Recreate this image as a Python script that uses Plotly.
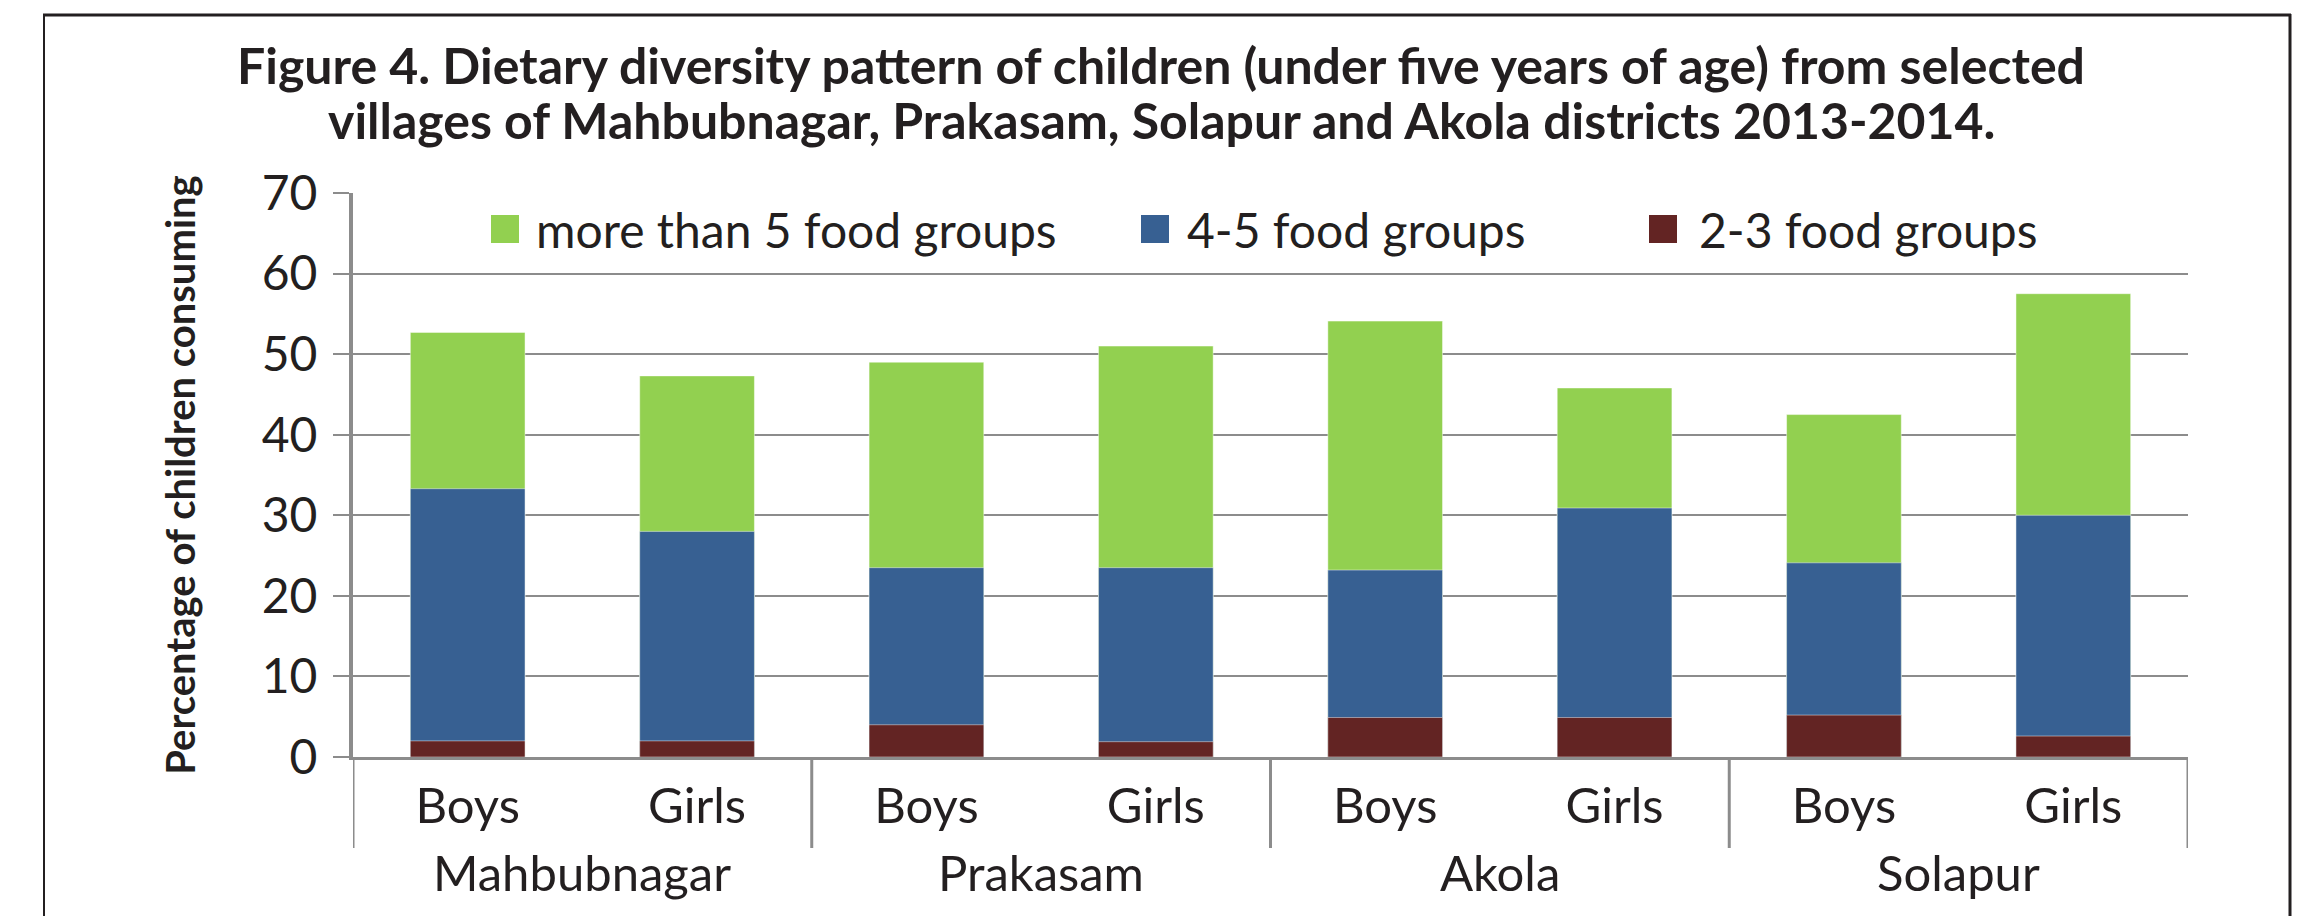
import plotly.graph_objects as go

# ---------------- data ----------------
districts = ["Mahbubnagar", "Prakasam", "Akola", "Solapur"]
genders = ["Boys", "Girls"]
series_names = ["more than 5 food groups", "4-5 food groups", "2-3 food groups"]
more_than_5 = [52.7, 47.3, 49.0, 51.0, 54.1, 45.8, 42.5, 57.5]
four_to_5 = [33.3, 28.0, 23.5, 23.5, 23.2, 30.9, 24.1, 30.0]
two_to_3 = [2.0, 2.0, 4.0, 1.9, 4.9, 4.9, 5.2, 2.6]
y_ticks = [0, 10, 20, 30, 40, 50, 60, 70]
title_lines = [
    "Figure 4. Dietary diversity pattern of children (under five years of age) from selected",
    "villages of Mahbubnagar, Prakasam, Solapur and Akola districts 2013-2014.",
]

series_values = [more_than_5, four_to_5, two_to_3]
colors = ["#92D050", "#376092", "#632423"]

inner = [g for _ in districts for g in genders]
pos = list(range(len(inner)))           # category slots on the x axis
ng = len(genders)

# ---------------- geometry ----------------
W, H = 2313, 916
L, R = 353, 2188
T, B = 193, 757
PW, PH = R - L, B - T


def px_x(px):
    return (px - L) / PW


def px_y(py):
    return (B - py) / PH


FONT = "Lato"
TXT = "#231f20"
GRID = "#8c8c8c"

fig = go.Figure()
for name, vals, col in zip(series_names, series_values, colors):
    fig.add_trace(go.Bar(
        x=pos, y=vals, name=name,
        marker=dict(color=col, line=dict(color="rgba(255,255,255,0.45)", width=1)),
        showlegend=False,
    ))

shapes = []
annotations = []

# legend (manual, to get large square swatches)
legend_pos = [(491, 534), (1141, 1185), (1649, 1697)]
for (sx, tx), name, col in zip(legend_pos, series_names, colors):
    shapes.append(dict(type="rect", xref="paper", yref="paper",
                       x0=px_x(sx), x1=px_x(sx + 28), y0=px_y(243), y1=px_y(215),
                       fillcolor=col, line=dict(width=0)))
    annotations.append(dict(xref="paper", yref="paper", x=px_x(tx), y=px_y(230),
                            xanchor="left", yanchor="middle", text=name, showarrow=False,
                            font=dict(family=FONT, size=48, color=TXT)))

# second title line (separate so that the line spacing matches)
annotations.append(dict(xref="paper", yref="paper", x=px_x(1161), y=px_y(120),
                        xanchor="center", yanchor="middle", showarrow=False,
                        text="<b>" + title_lines[1] + "</b>",
                        font=dict(family=FONT, size=50, color=TXT)))

# district (outer level) labels and group dividers
for i, d in enumerate(districts):
    annotations.append(dict(xref="x", yref="paper", x=i * ng + (ng - 1) / 2, y=px_y(872),
                            xanchor="center", yanchor="middle", showarrow=False, text=d,
                            font=dict(family=FONT, size=49, color=TXT)))
for k in range(0, len(inner) + 1, ng):
    shapes.append(dict(type="line", xref="x", yref="paper",
                       x0=k - 0.5, x1=k - 0.5, y0=0, y1=px_y(848),
                       line=dict(color=GRID, width=3)))

# outer frame
shapes.append(dict(type="line", xref="paper", yref="paper", x0=px_x(43), x1=px_x(2291),
                   y0=px_y(15), y1=px_y(15), line=dict(color="#231f20", width=3)))
shapes.append(dict(type="line", xref="paper", yref="paper", x0=px_x(44), x1=px_x(44),
                   y0=px_y(14), y1=px_y(930), line=dict(color="#231f20", width=2)))
shapes.append(dict(type="line", xref="paper", yref="paper", x0=px_x(2290), x1=px_x(2290),
                   y0=px_y(14), y1=px_y(930), line=dict(color="#231f20", width=3)))

fig.update_layout(
    width=W, height=H,
    margin=dict(l=L, r=W - R, t=T, b=H - B),
    paper_bgcolor="white", plot_bgcolor="white",
    barmode="overlay", bargap=0.5,
    title=dict(
        text="<b>" + title_lines[0] + "</b>",
        x=1161 / W, xanchor="center", xref="container",
        y=1 - 66 / H, yanchor="middle", yref="container",
        font=dict(family=FONT, size=50, color=TXT),
    ),
    xaxis=dict(
        range=[-0.5, len(inner) - 0.5], tickvals=pos, ticktext=inner,
        showline=True, linecolor=GRID, linewidth=3,
        ticks="", showgrid=False, zeroline=False,
        tickfont=dict(family=FONT, size=49, color=TXT),
        ticklabelstandoff=4,
    ),
    yaxis=dict(
        range=[0, 70], tickvals=y_ticks,
        showline=True, linecolor=GRID, linewidth=4,
        ticks="outside", ticklen=16, tickwidth=2, tickcolor=GRID,
        showgrid=True, gridcolor=GRID, gridwidth=2,
        zeroline=False,
        tickfont=dict(family=FONT, size=48, color=TXT),
        ticklabelstandoff=6,
        title=dict(text="<b>Percentage of children consuming</b>", standoff=55,
                   font=dict(family=FONT, size=40, color=TXT)),
    ),
    shapes=shapes, annotations=annotations,
)

fig.write_html("out.html")
